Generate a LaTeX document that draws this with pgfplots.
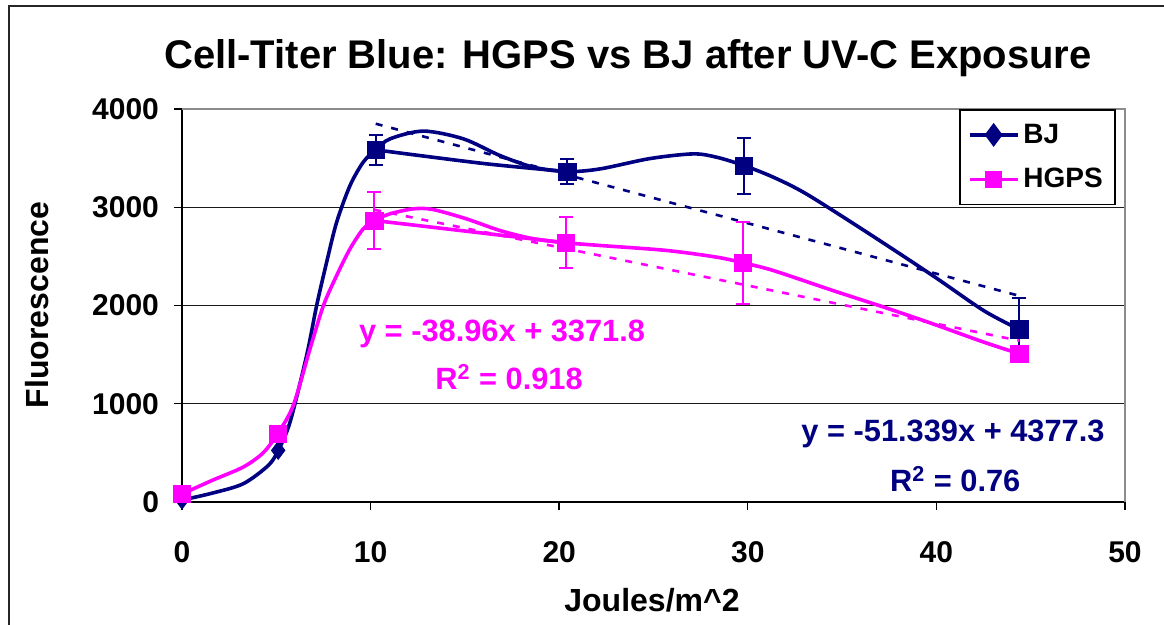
\documentclass[border=0pt]{standalone}
\usepackage{fontspec}
\setmainfont{Liberation Sans}
\usepackage{pgfplots}
\pgfplotsset{compat=1.18}
\definecolor{bjblue}{RGB}{0,0,128}
\definecolor{hgpspink}{RGB}{255,0,255}

\begin{document}
\begin{tikzpicture}
\useasboundingbox (0pt,0pt) rectangle (582pt,312.5pt);
\draw[line width=1pt, black!85] (4.5pt,-20pt) -- (4.5pt,309.5pt) -- (600pt,309.5pt);
\node[font=\fontsize{20}{24}\selectfont\bfseries] at (314pt,283.5pt) {Cell-Titer Blue: HGPS vs BJ after UV-C Exposure};
\node[font=\fontsize{16}{19}\selectfont\bfseries, rotate=90] at (18.5pt,160pt) {Fluorescence};
\node[font=\fontsize{16}{19}\selectfont\bfseries] at (326pt,12.5pt) {Joules/m\^{}2};
\begin{axis}[
  at={(91pt,61.5pt)}, anchor=south west,
  scale only axis, width=471.5pt, height=196.5pt,
  xmin=0, xmax=50, ymin=0, ymax=4000,
  xtick={0,10,...,50}, ytick={0,1000,...,4000},
  axis lines*=left, axis line style={line width=0.7pt, -},
  tick align=outside, major tick length=4pt,
  tick style={black, line width=0.7pt},
  ymajorgrids, grid style={black!90, line width=0.7pt},
  /pgf/number format/assume math mode=true,
  /pgf/number format/set thousands separator={},
  tick label style={font=\fontsize{15}{18}\selectfont\bfseries},
  xticklabel style={yshift=-12pt},
  yticklabel style={xshift=-4pt},
  clip=false,
  legend style={at={(0.824,1)}, anchor=north west, draw=black, line width=0.8pt,
    font=\fontsize{14}{17}\selectfont\bfseries, row sep=7pt, inner xsep=4pt, inner ysep=5pt},
  legend cell align=left,
  legend image code/.code={\draw[mark repeat=2, mark phase=2, #1] plot coordinates {(0pt,0pt) (12pt,0pt) (24pt,0pt)};},
]
\draw[black!45, line width=0.7pt] (rel axis cs:0,1) -- (rel axis cs:1,1) -- (rel axis cs:1,0);

% BJ curves
\addplot[bjblue, line width=1.8pt, smooth, forget plot] coordinates {
  (0,20) (1.6,90) (3.25,186) (4.58,373) (5.1,525) (5.73,814) (6.61,1492) (7.14,2000)
  (7.67,2441) (8.2,2848) (8.91,3221) (9.61,3459) (10.27,3584) (11.03,3696) (12.8,3775)
  (14.92,3696) (16.86,3526) (18.63,3408) (20.43,3363) (22.16,3390) (24.8,3495)
  (27.1,3543) (28.35,3509) (29.8,3424) (31.35,3306) (33.1,3136) (36.3,2747)
  (39.8,2305) (42.5,1949) (44.4,1756)
};
\addplot[bjblue, line width=1.8pt, smooth, forget plot] coordinates {
  (10.27,3584) (16,3445) (20.43,3363)
};
\addplot[bjblue, line width=1.3pt, dash pattern=on 3.5pt off 4.5pt, forget plot] coordinates {
  (10.27,3850) (44.4,2098)
};
\addplot[bjblue, only marks, mark=diamond*, mark size=4.5pt, forget plot] coordinates {
  (0,20) (5.1,525)
};
\addplot[bjblue, only marks, mark=square*, mark size=4.3pt, forget plot,
  error bars/.cd, y dir=both, y explicit, error mark=|,
  error bar style={line width=1pt},
  error mark options={line width=1pt, mark size=3.5pt}] coordinates {
  (10.27,3584) +- (0,150)
  (20.43,3363) +- (0,130)
  (29.8,3424) +- (0,285)
  (44.4,1756) +- (0,320)
};

% HGPS curves
\addplot[hgpspink, line width=1.8pt, smooth, forget plot] coordinates {
  (0,81) (1.6,220) (3.25,356) (4.3,500) (5.07,695) (5.9,983) (6.79,1560) (7.5,2000)
  (8.2,2305) (8.91,2577) (9.61,2780) (10.2,2865) (11.03,2933) (12.27,2984)
  (13.3,2977) (15.08,2882) (16.86,2763) (18.63,2679) (20.37,2638) (22.16,2611)
  (25.7,2560) (28.35,2492) (29.75,2434) (31.35,2356) (34.5,2153) (37.2,1984)
  (39.8,1814) (42.5,1628) (44.4,1509)
};
\addplot[hgpspink, line width=1.8pt, forget plot] coordinates {
  (10.2,2865) (20.37,2638)
};
\addplot[hgpspink, line width=1.3pt, dash pattern=on 3.5pt off 4.5pt, forget plot] coordinates {
  (10.2,2974) (44.4,1642)
};
\addplot[hgpspink, only marks, mark=square*, mark size=4.3pt, forget plot,
  error bars/.cd, y dir=both, y explicit, error mark=|,
  error bar style={line width=1pt},
  error mark options={line width=1pt, mark size=3.5pt}] coordinates {
  (0,81) +- (0,0)
  (5.07,695) +- (0,0)
  (10.2,2865) +- (0,290)
  (20.37,2638) +- (0,260)
  (29.75,2434) +- (0,420)
  (44.4,1509) +- (0,70)
};

\addlegendimage{bjblue, line width=1.8pt, mark=diamond*, mark size=4.5pt}
\addlegendentry{BJ}
\addlegendimage{hgpspink, line width=1.8pt, mark=square*, mark size=3.5pt}
\addlegendentry{HGPS}

\node[hgpspink, font=\fontsize{15.4}{18}\selectfont\bfseries] at (axis cs:16.97,1709) {y = -38.96x + 3371.8};
\node[hgpspink, font=\fontsize{15.4}{18}\selectfont\bfseries] at (axis cs:17.34,1272) {R\textsuperscript{2} = 0.918};
\node[bjblue, font=\fontsize{15.4}{18}\selectfont\bfseries] at (axis cs:40.88,692) {y = -51.339x + 4377.3};
\node[bjblue, font=\fontsize{15.4}{18}\selectfont\bfseries] at (axis cs:41.0,234) {R\textsuperscript{2} = 0.76};
\end{axis}
\end{tikzpicture}
\end{document}
